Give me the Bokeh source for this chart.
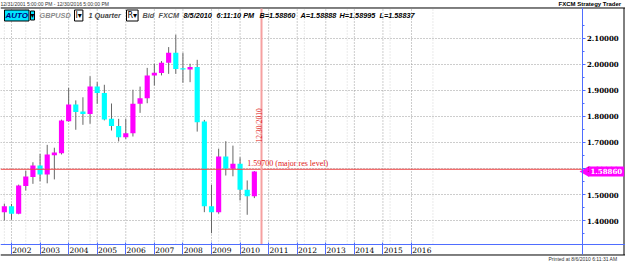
from bokeh.plotting import figure
from bokeh.models import (FixedTicker, CustomJSTickFormatter, PrintfTickFormatter, Label,
                          LinearAxis, Range1d, ColumnDataSource)
from bokeh.embed import file_html
from bokeh.resources import INLINE

# ---------------- data ----------------
quarters = ["2001Q4",
            "2002Q1", "2002Q2", "2002Q3", "2002Q4",
            "2003Q1", "2003Q2", "2003Q3", "2003Q4",
            "2004Q1", "2004Q2", "2004Q3", "2004Q4",
            "2005Q1", "2005Q2", "2005Q3", "2005Q4",
            "2006Q1", "2006Q2", "2006Q3", "2006Q4",
            "2007Q1", "2007Q2", "2007Q3", "2007Q4",
            "2008Q1", "2008Q2", "2008Q3", "2008Q4",
            "2009Q1", "2009Q2", "2009Q3", "2009Q4",
            "2010Q1", "2010Q2", "2010Q3"]
opens = [1.432, 1.455, 1.426, 1.533, 1.567, 1.612, 1.577, 1.651, 1.659,
         1.782, 1.846, 1.819, 1.810, 1.915, 1.890, 1.791, 1.763, 1.720,
         1.736, 1.849, 1.870, 1.958, 1.967, 2.007, 2.045, 1.986, 1.981,
         1.990, 1.781, 1.455, 1.432, 1.646, 1.599, 1.618, 1.518, 1.493]
highs = [1.465, 1.464, 1.538, 1.592, 1.624, 1.656, 1.691, 1.680, 1.788,
         1.910, 1.862, 1.874, 1.955, 1.932, 1.922, 1.850, 1.791, 1.791,
         1.903, 1.915, 1.987, 2.003, 2.013, 2.067, 2.115, 2.045, 2.003,
         2.018, 1.787, 1.537, 1.676, 1.705, 1.688, 1.643, 1.554, 1.590]
lows = [1.400, 1.403, 1.424, 1.515, 1.541, 1.551, 1.543, 1.558, 1.654,
        1.780, 1.749, 1.768, 1.772, 1.849, 1.785, 1.746, 1.704, 1.714,
        1.723, 1.814, 1.851, 1.919, 1.958, 1.964, 1.964, 1.930, 1.932,
        1.742, 1.432, 1.351, 1.426, 1.573, 1.570, 1.477, 1.422, 1.486]
closes = [1.455, 1.426, 1.535, 1.569, 1.612, 1.577, 1.654, 1.662, 1.785,
          1.846, 1.817, 1.810, 1.915, 1.890, 1.788, 1.763, 1.720, 1.736,
          1.849, 1.870, 1.958, 1.968, 2.007, 2.045, 1.983, 1.981, 1.990,
          1.778, 1.455, 1.432, 1.646, 1.599, 1.618, 1.518, 1.493, 1.5886]

year_labels = ["2002", "2003", "2004", "2005", "2006", "2007", "2008", "2009",
               "2010", "2011", "2012", "2013", "2014", "2015", "2016"]
price_ticks = [1.4, 1.5, 1.6, 1.7, 1.8, 1.9, 2.0, 2.1]
price_minor = [1.35, 1.45, 1.55, 1.65, 1.75, 1.85, 1.95, 2.05, 2.15]

res_level = 1.597
res_text = "1.59700 (major res level)"
marker_quarter = "2010Q4"
marker_text = "12/30/2010"
last_price = 1.5886
last_text = "1.58860"

# ---------------- helpers ----------------
first_year, first_q = int(quarters[0][:4]), int(quarters[0][5])


def qindex(year, q):
    return (year - first_year) * 4 + (q - first_q)


xs = list(range(len(quarters)))
year_pos = [qindex(int(y), 1) for y in year_labels]
label_pos = [v + 1.45 for v in year_pos]
light_grid = [0, 3, 12, 24, 30, 42, 48, 54, 60]
marker_x = qindex(int(marker_quarter[:4]), int(marker_quarter[5]))

# layout limits (data units)
XMIN, XMAX = -0.54, 86.96            # whole canvas, left/right
YMIN, YMAX = 1.24231, 2.24615        # whole canvas, bottom/top
X_AXIS, X_BORDER = 80.87, 86.75      # price axis, right border line
P_BOT, P_TOP = 1.30769, 2.21538      # plot area bottom (time axis) / top
B_BOT, B_TOP = 1.26731, 2.21731      # frame border lines

BULL, BEAR = "#ff00ff", "#00ffff"
BLUE = "#4f6dff"
GRID = "#9a9a9a"
src = ColumnDataSource(dict(
    x=xs, open=opens, high=highs, low=lows, close=closes,
    top=[max(o, c) for o, c in zip(opens, closes)],
    bottom=[min(o, c) for o, c in zip(opens, closes)],
    color=[BULL if c >= o else BEAR for o, c in zip(opens, closes)],
))

p = figure(width=625, height=261, output_backend="svg", toolbar_location=None,
           x_range=Range1d(XMIN, XMAX), y_range=Range1d(YMIN, YMAX),
           x_axis_location=None, y_axis_location=None,
           min_border_left=0, min_border_right=0, min_border_top=0, min_border_bottom=0,
           outline_line_color=None, background_fill_color="white", border_fill_color="white")
p.xgrid.visible = False
p.ygrid.visible = False

# grid lines (dotted) limited to the plot area
p.segment(x0=[XMIN] * len(price_ticks), x1=[X_AXIS] * len(price_ticks), y0=price_ticks, y1=price_ticks,
          line_color=GRID, line_dash="1 2", line_width=1)
p.segment(x0=light_grid, x1=light_grid, y0=[P_BOT] * len(light_grid), y1=[P_TOP] * len(light_grid),
          line_color="#d4d4d4", line_dash="1 2", line_width=1)
p.segment(x0=year_pos, x1=year_pos, y0=[P_BOT] * len(year_pos), y1=[P_TOP] * len(year_pos),
          line_color=GRID, line_dash="1 2", line_width=1)

# frame border lines (black)
p.segment(x0=[XMIN, XMIN, X_BORDER], x1=[XMAX, XMAX, X_BORDER],
          y0=[B_TOP, B_BOT, B_BOT], y1=[B_TOP, B_BOT, B_TOP], line_color="black", line_width=1)

# right price axis (fixed at the plot area's right edge)
ya = LinearAxis(fixed_location=X_AXIS, bounds=(B_BOT, B_TOP))
ya.ticker = FixedTicker(ticks=price_ticks, minor_ticks=price_minor)
ya.formatter = PrintfTickFormatter(format="%.5f")
ya.axis_line_color = BLUE
ya.major_tick_line_color = BLUE
ya.minor_tick_line_color = BLUE
ya.major_tick_in = 0
ya.major_tick_out = 3
ya.minor_tick_in = 0
ya.minor_tick_out = 2
ya.major_label_standoff = 2
ya.major_label_text_font = "DejaVu Serif"
ya.major_label_text_font_size = "7px"
ya.major_label_text_font_style = "bold"
ya.major_label_text_color = "black"
p.add_layout(ya, "right")

# bottom year axis (fixed at the plot area's bottom edge)
xa = LinearAxis(fixed_location=P_BOT)
xa.ticker = FixedTicker(ticks=label_pos, minor_ticks=year_pos)
xa.formatter = CustomJSTickFormatter(args=dict(labels=year_labels, pos=label_pos), code="""
    for (let i = 0; i < pos.length; i++) { if (Math.abs(pos[i] - tick) < 1e-6) return labels[i]; }
    return '';
""")
xa.axis_line_color = BLUE
xa.axis_line_width = 1
xa.major_tick_line_color = None
xa.major_tick_in = 0
xa.major_tick_out = 0
xa.minor_tick_line_color = BLUE
xa.minor_tick_in = 2
xa.minor_tick_out = 10
xa.major_label_standoff = -8
xa.major_label_text_font = "DejaVu Serif"
xa.major_label_text_font_size = "7.5px"
xa.major_label_text_color = "black"
p.add_layout(xa, "below")

# candles
p.segment(x0="x", y0="low", x1="x", y1="high", source=src, line_color="#666666", line_width=1)
p.vbar(x="x", width=0.72, top="top", bottom="bottom", source=src, fill_color="color", line_color=None)

# resistance line and date marker
p.segment(x0=[XMIN], x1=[X_AXIS], y0=[res_level], y1=[res_level], line_color="#ee4444", line_width=1)
p.segment(x0=[marker_x], x1=[marker_x], y0=[P_BOT], y1=[P_TOP], line_color="#f6a0a0", line_width=2)

p.add_layout(Label(x=marker_x, y=1.70, x_offset=-2, text=marker_text, angle=90, angle_units="deg",
                   text_color="#e02020", text_font="Liberation Serif", text_font_size="7.5px",
                   text_baseline="alphabetic", text_align="left"))
p.add_layout(Label(x=34.0, y=res_level, y_offset=1, text=res_text, text_color="#e02020",
                   text_font="Liberation Serif", text_font_size="8px", text_baseline="bottom"))

# current price tag: left-pointing arrow + magenta box
p.scatter(x=[X_AXIS + 0.55], y=[last_price], marker="triangle", angle=90, angle_units="deg",
          size=11, fill_color="#ff00ff", line_color=None)
p.add_layout(Label(x=588, x_units="canvas", y=last_price, text=last_text, text_baseline="middle",
                   text_color="white", text_font="DejaVu Serif", text_font_style="bold",
                   text_font_size="7px", background_fill_color="#ff00ff", padding=2))


# header / frame texts (canvas units)
def lab(x, y, text, size="7.3px", color="black", style="bold italic", font="Liberation Sans", **kw):
    p.add_layout(Label(x=x, y=y, x_units="canvas", y_units="canvas", text=text,
                       text_font=font, text_font_size=size, text_color=color,
                       text_font_style=style, text_baseline="middle", **kw))


lab(0, 3.5, "12/31/2001 5:00:00 PM - 12/30/2016 5:00:00 PM", size="5px", color="#333333", style="normal")
lab(558, 3.5, "FXCM Strategy Trader", size="6px", color="black", style="bold")
lab(548, 258, "Printed at 8/6/2010 6:11:31 AM", size="5px", color="#333333", style="normal")
lab(4, 15, "AUTO", size="8px", color="#000080", background_fill_color="#00e5ff",
    border_line_color="black", padding=1)
lab(30, 15, "\u25be", size="8px", color="black", style="normal", font="DejaVu Sans",
    background_fill_color="#00e5ff", border_line_color="black", padding=0)
lab(39, 15, "GBPUSD", color="#8a8a8a")
lab(74, 15, "I\u25be", size="8px", color="black", style="normal", font="DejaVu Sans",
    background_fill_color="white", border_line_color="black", padding=1)
lab(88, 15, "1 Quarter", color="#444444")
lab(126, 15, "R\u25be", size="8px", color="black", style="normal", font="DejaVu Sans",
    background_fill_color="white", border_line_color="black", padding=1)
lab(142, 15, "Bid", color="#555555")
lab(158, 15, "FXCM", color="#555555")
lab(183, 15, "8/5/2010")
lab(216, 15, "6:11:10 PM")
lab(259, 15, "B=1.58860")
lab(300, 15, "A=1.58888")
lab(339, 15, "H=1.58995")
lab(379, 15, "L=1.58837")

open("out.html", "w").write(file_html(p, INLINE))
